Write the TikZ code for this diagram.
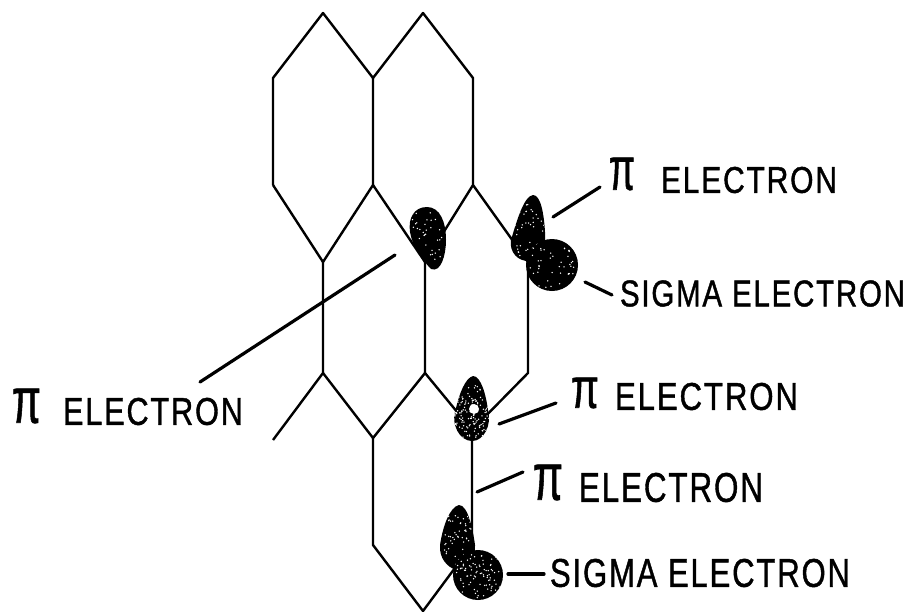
\documentclass[tikz,border=0pt]{standalone}
\usepackage{fontspec}
\usepackage{graphicx}
\setmainfont{Liberation Sans}
\newfontfamily\labelfont[FakeBold=1.2,LetterSpace=6]{Liberation Sans}
\newfontfamily\pifont[FakeBold=1.2]{Liberation Sans}
\tikzset{
  lattice/.style={line width=2.4pt,line join=round,black},
  leader/.style={line width=3.2pt,black,line cap=round},
  lab/.style={anchor=center,inner sep=0pt,text=black}
}
\newcommand{\fitlab}[3]{\resizebox{#1pt}{#2pt}{\labelfont #3}}
\newcommand{\fitpi}[2]{\resizebox{#1pt}{#2pt}{\pifont π}}
\newcommand{\speckle}[5]{% x1 y1 x2 y2 count
  \foreach \k in {1,...,#5}{
    \pgfmathsetmacro{\sx}{#1+rnd*(#3-#1)}
    \pgfmathsetmacro{\sy}{#2+rnd*(#4-#2)}
    \fill[white] (\sx,\sy) circle (.75);
  }}
\begin{document}
\begin{tikzpicture}[x=1pt,y=-1pt]
\pgfmathsetseed{42}
\useasboundingbox (0,0) rectangle (912,611);
% lattice vertices
\foreach \n/\x/\y in {a/323/13,b/423/13,c/273/78,d/373/78,e/473/78,f/273/185,g/373/185,h/473/185,
  i/323/262,j/425/262,k/528/262,l/323/373,m/425/373,n/528/373,o/472/430,
  p/273/440,q/373/438,r/373/545,s/472/545,t/423/611}{\coordinate (\n) at (\x,\y);}
\draw[lattice] (f)--(c)--(a)--(d)--(b)--(e)--(h)--(k)--(n)--(o)--(m)--(j)--(h);
\draw[lattice] (d)--(g)--(i)--(f);
\draw[lattice] (g)--(j);
\draw[lattice] (i)--(l)--(p);
\draw[lattice] (l)--(q)--(m);
\draw[lattice] (q)--(r)--(t)--(s)--(o);
% blobs
\begin{scope}
\path[clip] (427,207) .. controls (414,207) and (408,218) .. (410,232) .. controls (412,246) and (424,262) .. (431,269) .. controls (441,273) and (446,255) .. (446,240) .. controls (446,222) and (440,207) .. (427,207) -- cycle;
\fill (400,200) rectangle (455,280);
\speckle{412}{212}{445}{265}{40}
\end{scope}
\begin{scope}
\path[clip] (533,195) .. controls (524,196) and (517,220) .. (511,240) .. controls (509,252) and (518,262) .. (530,261) .. controls (543,258) and (546,245) .. (545,232) .. controls (544,215) and (541,195) .. (533,195) -- cycle;
\fill (505,190) rectangle (550,270);
\speckle{515}{200}{544}{258}{40}
\end{scope}
\begin{scope}
\path[clip] (552,265) circle (26);
\fill (520,235) rectangle (585,295);
\speckle{530}{244}{574}{288}{45}
\end{scope}
\begin{scope}
\path[clip] (473,376) .. controls (465,378) and (459,395) .. (456,408) .. controls (450,425) and (460,441) .. (472,441) .. controls (484,441) and (492,425) .. (488,410) .. controls (486,395) and (481,376) .. (473,376) -- cycle;
\fill (445,370) rectangle (495,445);
\speckle{452}{395}{490}{438}{150}
\speckle{462}{385}{482}{405}{15}
\fill[white] (474,409) circle (5);
\end{scope}
\begin{scope}
\path[clip] (459,505) .. controls (450,507) and (443,525) .. (440,545) .. controls (439,558) and (447,567) .. (456,570) .. controls (468,570) and (476,560) .. (475,545) .. controls (473,530) and (468,505) .. (459,505) -- cycle;
\fill (435,500) rectangle (480,575);
\speckle{442}{515}{474}{568}{60}
\end{scope}
\begin{scope}
\path[clip] (478,575) circle (25);
\fill (450,548) rectangle (505,603);
\speckle{456}{553}{500}{598}{90}
\end{scope}
% labels
\node[lab] (p1) at (622,174) {\fitpi{26}{32}};
\node[lab] (t1) at (749,180) {\fitlab{176}{26}{ELECTRON}};
\node[lab] (t2) at (762.5,293.5) {\fitlab{285}{26}{SIGMA ELECTRON}};
\node[lab] (p2) at (26.5,406) {\fitpi{29}{34}};
\node[lab] (t3) at (153,411.5) {\fitlab{180}{27}{ELECTRON}};
\node[lab] (p3) at (585,393) {\fitpi{28}{30}};
\node[lab] (t4) at (706.5,396.5) {\fitlab{183}{27}{ELECTRON}};
\node[lab] (p4) at (548,482.5) {\fitpi{30}{35}};
\node[lab] (t5) at (671,487.5) {\fitlab{184}{29}{ELECTRON}};
\node[lab] (t6) at (700,573) {\fitlab{300}{28}{SIGMA ELECTRON}};
% leaders
\foreach \n/\x/\y in {l1a/553/217,l1b/600/187,l2a/585/282,l2b/612/295,l3a/200/382,l3b/395/255,
  l4a/499/424,l4b/556/403,l5a/477/492,l5b/523/472,l6a/508/574,l6b/544/574}{\coordinate (\n) at (\x,\y);}
\draw[leader] (l1a)--(l1b);
\draw[leader] (l2a)--(l2b);
\draw[leader] (l3a)--(l3b);
\draw[leader] (l4a)--(l4b);
\draw[leader] (l5a)--(l5b);
\draw[leader] (l6a)--(l6b);
\end{tikzpicture}
\end{document}
